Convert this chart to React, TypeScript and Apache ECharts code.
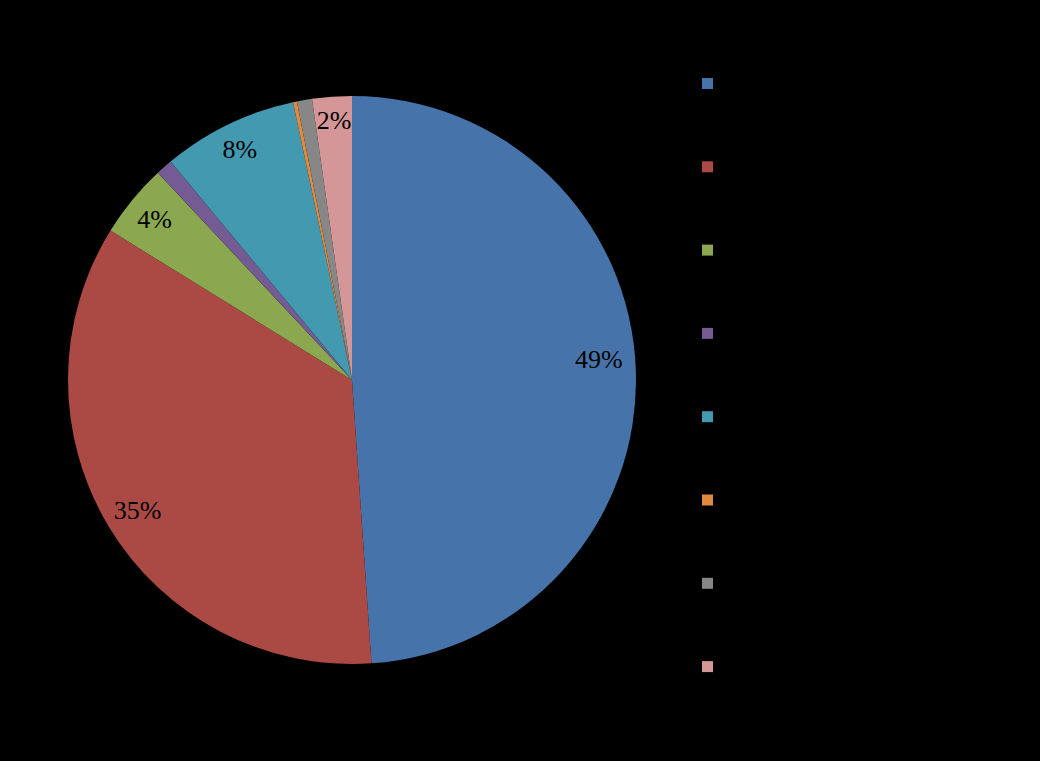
import React, { useEffect, useRef } from "react";
import * as echarts from "echarts";

const categories = ["Series 1", "Series 2", "Series 3", "Series 4", "Series 5", "Series 6", "Series 7", "Series 8"];
const values = [48.9, 34.9, 4.2, 0.95, 7.7, 0.22, 0.86, 2.25];
const colors = ["#4674AA", "#AB4A45", "#8BA74F", "#745B93", "#4399B0", "#E08A3F", "#878787", "#D49696"];
const showLabel = [true, true, true, false, true, false, false, true];
const labelOffsets = [[-8, -12], [4, -1], [0, 1], [0, 0], [-1, -1], [0, 0], [0, 0], [0, -5]];

export default function App() {
  const ref = useRef<HTMLDivElement>(null);
  useEffect(() => {
    document.body.style.margin = "0";
    document.body.style.background = "#000";
    const chart = echarts.init(ref.current!, undefined, { renderer: "svg" });
    const data = categories.map((name, i) => ({
      name,
      value: values[i],
      itemStyle: { color: colors[i] },
    }));
    const labelData = categories.map((name, i) => ({
      name,
      value: values[i],
      itemStyle: { color: "rgba(0,0,0,0)" },
      label: { show: showLabel[i], offset: labelOffsets[i] },
    }));
    chart.setOption({
      animation: false,
      backgroundColor: "#000000",
      legend: {
        orient: "vertical",
        left: 697,
        top: 73,
        itemWidth: 11,
        itemHeight: 11,
        itemGap: 72.3,
        icon: "rect",
        data: categories,
        formatter: () => "",
        textStyle: { color: "#000", fontSize: 10, lineHeight: 11 },
        selectedMode: false,
      },
      series: [
        {
          type: "pie",
          center: [352, 380],
          radius: [0, 284],
          startAngle: 90,
          clockwise: true,
          data,
          label: { show: false },
          labelLine: { show: false },
          itemStyle: { borderWidth: 0 },
          emphasis: { disabled: true },
          silent: true,
        },
        {
          type: "pie",
          center: [352, 380],
          radius: [240, 264],
          startAngle: 90,
          clockwise: true,
          data: labelData,
          legendHoverLink: false,
          label: {
            position: "inside",
            formatter: (p: any) => Math.round(p.percent) + "%",
            fontFamily: "Liberation Serif",
            fontSize: 26,
            color: "#000",
          },
          labelLine: { show: false },
          emphasis: { disabled: true },
          silent: true,
        },
      ],
    });
    return () => chart.dispose();
  }, []);
  return <div ref={ref} style={{ position: "absolute", left: 0, top: 0, width: 1040, height: 761 }} />;
}
